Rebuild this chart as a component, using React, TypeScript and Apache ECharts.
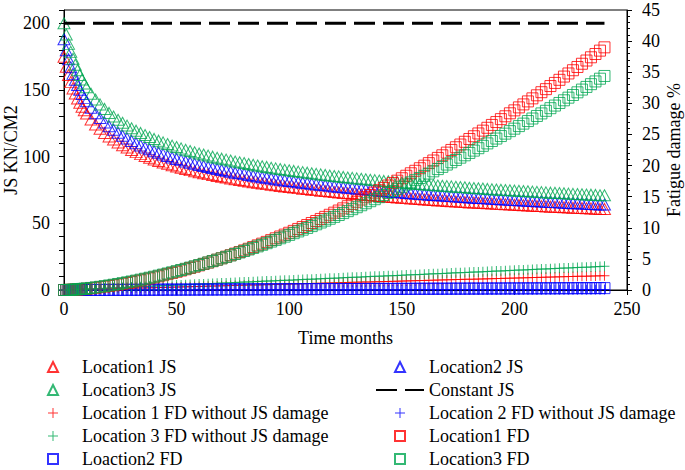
import React, { useEffect, useRef } from "react";
import * as echarts from "echarts";

const months = [0, 1, 2, 3, 4, 5, 6, 7, 8, 9, 10,
  12, 14, 16, 18, 20, 22, 24, 26, 28, 30,
  32, 34, 36, 38, 40, 42, 44, 46, 48, 50,
  52, 54, 56, 58, 60, 62, 64, 66, 68, 70,
  72, 74, 76, 78, 80, 82, 84, 86, 88, 90,
  92, 94, 96, 98, 100, 102, 104, 106, 108, 110,
  112, 114, 116, 118, 120, 122, 124, 126, 128, 130,
  132, 134, 136, 138, 140, 142, 144, 146, 148, 150,
  152, 154, 156, 158, 160, 162, 164, 166, 168, 170,
  172, 174, 176, 178, 180, 182, 184, 186, 188, 190,
  192, 194, 196, 198, 200, 202, 204, 206, 208, 210,
  212, 214, 216, 218, 220, 222, 224, 226, 228, 230,
  232, 234, 236, 238, 240];

const loc1JS = [175.0, 167.5, 161.2, 155.9, 151.2, 147.3, 143.6, 140.4, 137.5, 134.8, 132.3,
  127.9, 124.1, 120.9, 117.8, 115.2, 112.8, 110.7, 108.6, 106.8, 105.0,
  103.4, 101.9, 100.5, 99.2, 97.9, 96.8, 95.6, 94.6, 93.5, 92.6,
  91.7, 90.8, 89.9, 89.1, 88.3, 87.6, 86.9, 86.2, 85.5, 84.9,
  84.3, 83.7, 83.0, 82.5, 82.0, 81.4, 80.8, 80.4, 79.9, 79.4,
  78.9, 78.5, 78.0, 77.6, 77.2, 76.8, 76.4, 76.0, 75.7, 75.2,
  74.9, 74.5, 74.2, 73.8, 73.5, 73.2, 72.8, 72.5, 72.2, 71.9,
  71.6, 71.3, 71.0, 70.7, 70.5, 70.2, 70.0, 69.7, 69.4, 69.2,
  68.9, 68.6, 68.4, 68.2, 67.9, 67.7, 67.5, 67.2, 67.1, 66.8,
  66.6, 66.4, 66.2, 66.0, 65.7, 65.6, 65.4, 65.2, 65.0, 64.8,
  64.6, 64.4, 64.3, 64.1, 63.9, 63.7, 63.6, 63.4, 63.2, 63.0,
  62.9, 62.7, 62.5, 62.4, 62.2, 62.1, 61.9, 61.7, 61.6, 61.5,
  61.3, 61.2, 61.0, 60.8, 60.8];

const loc2JS = [188.0, 179.8, 173.0, 167.1, 162.1, 157.7, 153.7, 150.2, 147.0, 144.1, 141.5,
  136.7, 132.6, 129.0, 125.7, 122.8, 120.2, 117.9, 115.7, 113.7, 111.8,
  110.1, 108.4, 106.9, 105.5, 104.1, 102.9, 101.7, 100.5, 99.4, 98.3,
  97.4, 96.4, 95.5, 94.6, 93.8, 93.0, 92.2, 91.5, 90.7, 90.0,
  89.4, 88.7, 88.0, 87.5, 86.9, 86.2, 85.7, 85.2, 84.6, 84.2,
  83.6, 83.1, 82.6, 82.2, 81.8, 81.3, 80.8, 80.5, 80.1, 79.6,
  79.2, 78.9, 78.5, 78.1, 77.7, 77.4, 77.1, 76.7, 76.4, 76.0,
  75.7, 75.4, 75.1, 74.8, 74.5, 74.2, 73.9, 73.7, 73.4, 73.1,
  72.8, 72.5, 72.2, 72.1, 71.8, 71.5, 71.3, 71.0, 70.8, 70.6,
  70.4, 70.1, 69.9, 69.7, 69.4, 69.2, 69.0, 68.9, 68.6, 68.4,
  68.2, 68.0, 67.8, 67.6, 67.4, 67.3, 67.1, 66.9, 66.7, 66.5,
  66.3, 66.1, 65.9, 65.9, 65.7, 65.5, 65.3, 65.1, 65.0, 64.8,
  64.6, 64.5, 64.3, 64.2, 64.1];

const loc3JS = [200, 191.6, 184.6, 178.6, 173.4, 168.9, 164.8, 161.2, 157.9, 154.9, 152.1,
  147.2, 142.9, 139.2, 135.8, 132.8, 130.1, 127.7, 125.4, 123.3, 121.3,
  119.5, 117.8, 116.2, 114.7, 113.3, 112.0, 110.7, 109.5, 108.3, 107.2,
  106.2, 105.2, 104.2, 103.3, 102.4, 101.6, 100.8, 100.0, 99.2, 98.5,
  97.8, 97.1, 96.4, 95.8, 95.2, 94.5, 93.9, 93.4, 92.8, 92.3,
  91.7, 91.2, 90.7, 90.2, 89.8, 89.3, 88.8, 88.4, 88.0, 87.5,
  87.1, 86.7, 86.3, 85.9, 85.5, 85.2, 84.8, 84.4, 84.1, 83.7,
  83.4, 83.1, 82.7, 82.4, 82.1, 81.8, 81.5, 81.2, 80.9, 80.6,
  80.3, 80.0, 79.7, 79.5, 79.2, 78.9, 78.7, 78.4, 78.2, 77.9,
  77.7, 77.4, 77.2, 77.0, 76.7, 76.5, 76.3, 76.1, 75.8, 75.6,
  75.4, 75.2, 75.0, 74.8, 74.6, 74.4, 74.2, 74.0, 73.8, 73.6,
  73.4, 73.2, 73.0, 72.9, 72.7, 72.5, 72.3, 72.1, 72.0, 71.8,
  71.6, 71.5, 71.3, 71.1, 71.0];

const constMonths = [0, 240];
const constantJS = [200, 200];

const loc1FDnoJS = [0, 0.01, 0.02, 0.03, 0.04, 0.05, 0.06, 0.07, 0.08, 0.09, 0.1,
  0.12, 0.13, 0.15, 0.17, 0.19, 0.21, 0.23, 0.25, 0.27, 0.29,
  0.31, 0.33, 0.34, 0.36, 0.38, 0.4, 0.42, 0.44, 0.46, 0.48,
  0.5, 0.52, 0.54, 0.56, 0.58, 0.59, 0.61, 0.63, 0.65, 0.67,
  0.69, 0.71, 0.73, 0.75, 0.77, 0.79, 0.81, 0.82, 0.84, 0.86,
  0.88, 0.9, 0.92, 0.94, 0.96, 0.98, 1.0, 1.02, 1.04, 1.05,
  1.07, 1.09, 1.11, 1.13, 1.15, 1.17, 1.19, 1.21, 1.23, 1.25,
  1.27, 1.28, 1.3, 1.32, 1.34, 1.36, 1.38, 1.4, 1.42, 1.44,
  1.46, 1.48, 1.5, 1.51, 1.53, 1.55, 1.57, 1.59, 1.61, 1.63,
  1.65, 1.67, 1.69, 1.71, 1.73, 1.74, 1.76, 1.78, 1.8, 1.82,
  1.84, 1.86, 1.88, 1.9, 1.92, 1.94, 1.96, 1.97, 1.99, 2.01,
  2.03, 2.05, 2.07, 2.09, 2.11, 2.13, 2.15, 2.17, 2.19, 2.2,
  2.22, 2.24, 2.26, 2.28, 2.3];

const loc2FDnoJS = [0, 0, 0, 0, 0, 0, 0, 0, 0, 0, 0,
  0.01, 0.01, 0.01, 0.01, 0.01, 0.01, 0.01, 0.01, 0.01, 0.01,
  0.01, 0.01, 0.02, 0.02, 0.02, 0.02, 0.02, 0.02, 0.02, 0.02,
  0.02, 0.02, 0.02, 0.02, 0.03, 0.03, 0.03, 0.03, 0.03, 0.03,
  0.03, 0.03, 0.03, 0.03, 0.03, 0.03, 0.04, 0.04, 0.04, 0.04,
  0.04, 0.04, 0.04, 0.04, 0.04, 0.04, 0.04, 0.04, 0.05, 0.05,
  0.05, 0.05, 0.05, 0.05, 0.05, 0.05, 0.05, 0.05, 0.05, 0.05,
  0.06, 0.06, 0.06, 0.06, 0.06, 0.06, 0.06, 0.06, 0.06, 0.06,
  0.06, 0.06, 0.07, 0.07, 0.07, 0.07, 0.07, 0.07, 0.07, 0.07,
  0.07, 0.07, 0.07, 0.07, 0.08, 0.08, 0.08, 0.08, 0.08, 0.08,
  0.08, 0.08, 0.08, 0.08, 0.08, 0.08, 0.09, 0.09, 0.09, 0.09,
  0.09, 0.09, 0.09, 0.09, 0.09, 0.09, 0.09, 0.09, 0.1, 0.1,
  0.1, 0.1, 0.1, 0.1, 0.1];

const loc3FDnoJS = [0, 0.02, 0.03, 0.05, 0.06, 0.08, 0.1, 0.11, 0.13, 0.14, 0.16,
  0.19, 0.22, 0.25, 0.28, 0.32, 0.35, 0.38, 0.41, 0.44, 0.48,
  0.51, 0.54, 0.57, 0.6, 0.63, 0.67, 0.7, 0.73, 0.76, 0.79,
  0.82, 0.86, 0.89, 0.92, 0.95, 0.98, 1.01, 1.05, 1.08, 1.11,
  1.14, 1.17, 1.2, 1.24, 1.27, 1.3, 1.33, 1.36, 1.39, 1.43,
  1.46, 1.49, 1.52, 1.55, 1.58, 1.62, 1.65, 1.68, 1.71, 1.74,
  1.77, 1.81, 1.84, 1.87, 1.9, 1.93, 1.96, 2.0, 2.03, 2.06,
  2.09, 2.12, 2.15, 2.19, 2.22, 2.25, 2.28, 2.31, 2.34, 2.38,
  2.41, 2.44, 2.47, 2.5, 2.53, 2.57, 2.6, 2.63, 2.66, 2.69,
  2.72, 2.76, 2.79, 2.82, 2.85, 2.88, 2.91, 2.95, 2.98, 3.01,
  3.04, 3.07, 3.1, 3.14, 3.17, 3.2, 3.23, 3.26, 3.29, 3.33,
  3.36, 3.39, 3.42, 3.45, 3.48, 3.52, 3.55, 3.58, 3.61, 3.64,
  3.67, 3.71, 3.74, 3.77, 3.8];

const loc1FD = [0, 0.005, 0.014, 0.028, 0.045, 0.066, 0.089, 0.114, 0.143, 0.173, 0.206,
  0.278, 0.359, 0.447, 0.543, 0.646, 0.757, 0.873, 0.997, 1.126, 1.262,
  1.404, 1.551, 1.705, 1.864, 2.028, 2.199, 2.374, 2.555, 2.739, 2.931,
  3.127, 3.328, 3.533, 3.743, 3.959, 4.180, 4.404, 4.633, 4.867, 5.105,
  5.351, 5.597, 5.850, 6.107, 6.365, 6.630, 6.899, 7.172, 7.449, 7.734,
  8.018, 8.307, 8.600, 8.900, 9.200, 9.504, 9.816, 10.13, 10.44, 10.77,
  11.09, 11.42, 11.75, 12.09, 12.43, 12.77, 13.12, 13.47, 13.83, 14.18,
  14.54, 14.91, 15.28, 15.65, 16.03, 16.41, 16.79, 17.18, 17.57, 17.96,
  18.36, 18.76, 19.16, 19.57, 19.98, 20.39, 20.81, 21.23, 21.65, 22.08,
  22.51, 22.94, 23.38, 23.82, 24.27, 24.71, 25.16, 25.61, 26.07, 26.53,
  26.99, 27.46, 27.92, 28.40, 28.87, 29.35, 29.83, 30.31, 30.80, 31.29,
  31.79, 32.28, 32.78, 33.28, 33.78, 34.30, 34.80, 35.32, 35.84, 36.36,
  36.88, 37.40, 37.93, 38.47, 39.0];

const loc2FD = [0, 0, 0, 0, 0, 0.01, 0.01, 0.01, 0.01, 0.01, 0.01,
  0.02, 0.02, 0.02, 0.02, 0.03, 0.03, 0.03, 0.03, 0.04, 0.04,
  0.04, 0.04, 0.05, 0.05, 0.05, 0.05, 0.06, 0.06, 0.06, 0.06,
  0.07, 0.07, 0.07, 0.07, 0.08, 0.08, 0.08, 0.08, 0.09, 0.09,
  0.09, 0.09, 0.1, 0.1, 0.1, 0.1, 0.11, 0.11, 0.11, 0.11,
  0.12, 0.12, 0.12, 0.12, 0.13, 0.13, 0.13, 0.13, 0.14, 0.14,
  0.14, 0.14, 0.15, 0.15, 0.15, 0.15, 0.16, 0.16, 0.16, 0.16,
  0.17, 0.17, 0.17, 0.17, 0.18, 0.18, 0.18, 0.18, 0.19, 0.19,
  0.19, 0.19, 0.2, 0.2, 0.2, 0.2, 0.21, 0.21, 0.21, 0.21,
  0.22, 0.22, 0.22, 0.22, 0.23, 0.23, 0.23, 0.23, 0.24, 0.24,
  0.24, 0.24, 0.25, 0.25, 0.25, 0.25, 0.26, 0.26, 0.26, 0.26,
  0.27, 0.27, 0.27, 0.27, 0.28, 0.28, 0.28, 0.28, 0.29, 0.29,
  0.29, 0.29, 0.3, 0.3, 0.3];

const loc3FD = [0, 0.007, 0.021, 0.039, 0.060, 0.085, 0.113, 0.144, 0.177, 0.212, 0.250,
  0.331, 0.421, 0.517, 0.621, 0.731, 0.847, 0.969, 1.097, 1.231, 1.370,
  1.514, 1.664, 1.818, 1.976, 2.140, 2.308, 2.481, 2.658, 2.838, 3.025,
  3.214, 3.408, 3.605, 3.808, 4.011, 4.221, 4.434, 4.651, 4.871, 5.095,
  5.322, 5.552, 5.786, 6.027, 6.268, 6.512, 6.760, 7.011, 7.265, 7.523,
  7.785, 8.046, 8.314, 8.583, 8.855, 9.133, 9.412, 9.694, 9.976, 10.27,
  10.56, 10.85, 11.15, 11.45, 11.75, 12.05, 12.36, 12.67, 12.99, 13.30,
  13.62, 13.94, 14.27, 14.59, 14.92, 15.25, 15.59, 15.92, 16.26, 16.60,
  16.95, 17.30, 17.65, 17.99, 18.35, 18.71, 19.07, 19.43, 19.79, 20.16,
  20.53, 20.90, 21.27, 21.65, 22.03, 22.40, 22.79, 23.17, 23.56, 23.95,
  24.34, 24.74, 25.13, 25.53, 25.93, 26.34, 26.74, 27.15, 27.56, 27.97,
  28.38, 28.80, 29.22, 29.64, 30.06, 30.49, 30.91, 31.34, 31.77, 32.21,
  32.64, 33.08, 33.52, 33.96, 34.4];

const legendLeft = ["Location1 JS", "Location3 JS", "Location 1 FD without JS damage", "Location 3 FD without JS damage", "Loaction2 FD"];
const legendRight = ["Location2 JS", "Constant JS", "Location 2 FD without JS damage", "Location1 FD", "Location3 FD"];

const RED = "#ff0000";
const BLUE = "#0000ff";
const GREEN = "#00a651";
const FONT = "Liberation Serif";
const FS = 18;
const TRI = "path://M5,0L10,10L0,10Z";
const SQR = "path://M0,0L10,0L10,10L0,10Z";
const CROSS = "path://M4.5,0H5.5V10H4.5ZM0,4.5H10V5.5H0Z";

const pair = (xs: number[], ys: number[]) => xs.map((x, i) => [x, ys[i]]);

function hollow(name: string, symbol: string, size: any, color: string, ys: number[], axis: number) {
  return {
    name,
    type: "scatter",
    yAxisIndex: axis,
    symbol,
    symbolSize: size,
    silent: true,
    itemStyle: { color: "rgba(0,0,0,0)", borderColor: color, borderWidth: 1 },
    emphasis: { disabled: true },
    data: pair(months, ys),
  };
}

function cross(name: string, color: string, ys: number[]) {
  return {
    name,
    type: "scatter",
    yAxisIndex: 1,
    symbol: CROSS,
    symbolSize: 10,
    silent: true,
    itemStyle: { color, borderWidth: 0 },
    emphasis: { disabled: true },
    data: pair(months, ys),
  };
}

export default function App() {
  const ref = useRef<HTMLDivElement>(null);
  useEffect(() => {
    document.body.style.margin = "0";
    const chart = echarts.init(ref.current!, null, { renderer: "svg" });
    const legendCommon = {
      orient: "vertical",
      top: 358,
      height: 130,
      padding: 0,
      itemWidth: 48,
      itemHeight: 10,
      itemGap: 5,
      symbolKeepAspect: true,
      selectedMode: false,
      textStyle: { fontFamily: FONT, fontSize: FS, color: "#000" },
    };
    const axisText = { fontFamily: FONT, fontSize: FS, color: "#000" };
    chart.setOption({
      animation: false,
      textStyle: { fontFamily: FONT },
      grid: {
        left: 64, right: 58, top: 10, bottom: 180,
        containLabel: false, outerBoundsMode: "none",
        show: true, borderColor: "#000", borderWidth: 1, backgroundColor: "transparent",
      },
      legend: [
        { ...legendCommon, left: 47, data: legendLeft },
        {
          ...legendCommon,
          left: 375,
          data: legendRight.map((n) => (n === "Constant JS" ? { name: n, itemStyle: { opacity: 0 } } : n)),
        },
      ],
      xAxis: {
        type: "value",
        min: 0,
        max: 250,
        interval: 50,
        name: "Time months",
        nameLocation: "middle",
        nameGap: 39,
        nameMoveOverlap: false,
        nameTextStyle: axisText,
        axisLine: { onZero: false, lineStyle: { color: "#000", width: 1 } },
        axisTick: { length: 5, lineStyle: { color: "#000" } },
        axisLabel: { ...axisText, margin: 10 },
        splitLine: { show: false },
      },
      yAxis: [
        {
          type: "value",
          position: "left",
          min: 0,
          max: 210,
          interval: 10,
          name: "JS KN/CM2",
          nameLocation: "middle",
          nameRotate: 90,
          nameGap: 44,
          nameMoveOverlap: false,
          nameTextStyle: axisText,
          axisLine: { show: true, lineStyle: { color: "#000", width: 1 } },
          axisTick: { length: 5, lineStyle: { color: "#000" } },
          axisLabel: { ...axisText, margin: 14, formatter: (v: number) => (v % 50 === 0 ? String(v) : "") },
          splitLine: { show: false },
        },
        {
          type: "value",
          position: "right",
          min: 0,
          max: 45,
          interval: 5,
          name: "Fatigue damage %",
          nameLocation: "middle",
          nameRotate: 90,
          nameGap: 38,
          nameMoveOverlap: false,
          nameTextStyle: axisText,
          axisLine: { show: true, lineStyle: { color: "#000", width: 1 } },
          axisTick: { length: 5, lineStyle: { color: "#000" } },
          minorTick: { show: true, splitNumber: 5, length: 3, lineStyle: { color: "#000" } },
          axisLabel: { ...axisText, margin: 15 },
          splitLine: { show: false },
        },
      ],
      series: [
        hollow("Location1 JS", TRI, [12, 11], RED, loc1JS, 0),
        hollow("Location2 JS", TRI, [12, 11], BLUE, loc2JS, 0),
        hollow("Location3 JS", TRI, [12, 11], GREEN, loc3JS, 0),
        {
          name: "Constant JS",
          type: "line",
          yAxisIndex: 0,
          symbol: "none",
          silent: true,
          lineStyle: { color: "#000", width: 3, type: [21, 8] },
          itemStyle: { color: "#000" },
          data: pair(constMonths, constantJS),
        },
        cross("Location 1 FD without JS damage", RED, loc1FDnoJS),
        cross("Location 2 FD without JS damage", BLUE, loc2FDnoJS),
        cross("Location 3 FD without JS damage", GREEN, loc3FDnoJS),
        hollow("Loaction2 FD", SQR, [11, 11], BLUE, loc2FD, 1),
        hollow("Location1 FD", SQR, [11, 11], RED, loc1FD, 1),
        hollow("Location3 FD", SQR, [11, 11], GREEN, loc3FD, 1),
      ],
    });
    return () => chart.dispose();
  }, []);
  return <div ref={ref} style={{ width: 685, height: 470 }} />;
}
